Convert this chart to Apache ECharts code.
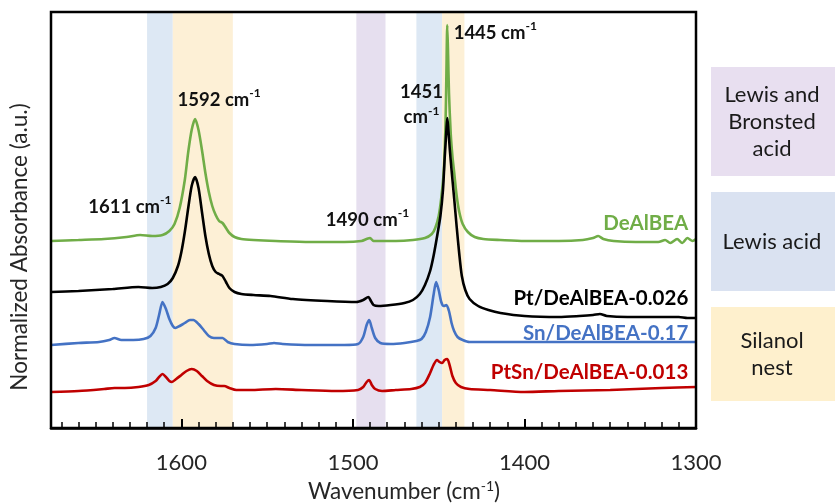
<!DOCTYPE html>
<html>
<head>
<meta charset="utf-8">
<script src="https://cdn.jsdelivr.net/npm/echarts@6/dist/echarts.min.js"></script>
<style>
html,body{margin:0;padding:0;background:#fff;}
#chart{width:835px;height:504px;}
</style>
</head>
<body>
<div id="chart"></div>
<script>
// Wavenumber axis (cm-1), drawn high to low
const wnMin = 1300;
const wnMax = 1676;
const wnTicks = [1300, 1400, 1500, 1600];

// Pyridine-adsorbed spectra, [wavenumber, normalized absorbance (offset)]
const deAlBEA = [[1676,1.87],[1660,1.88],[1645,1.89],[1632,1.91],[1624,1.93],[1617,1.92],[1611,1.93],[1607,1.97],[1604,2.04],[1601,2.20],[1598,2.48],[1596,2.76],[1594,2.98],[1592,3.09],[1590,2.98],[1588,2.78],[1586,2.55],[1584,2.36],[1582,2.22],[1580,2.13],[1578,2.07],[1576,2.05],[1574,2.00],[1572,1.95],[1569,1.91],[1565,1.89],[1558,1.88],[1545,1.87],[1525,1.86],[1505,1.86],[1495,1.87],[1492,1.89],[1490,1.90],[1488,1.87],[1485,1.87],[1475,1.87],[1465,1.88],[1458,1.90],[1454,1.94],[1452,2.00],[1450,2.12],[1448.5,2.30],[1447,2.58],[1446,3.05],[1445.5,3.55],[1445,4.03],[1444.5,3.72],[1444,3.35],[1443,2.95],[1442,2.72],[1441,2.56],[1439.5,2.32],[1438,2.16],[1436,2.04],[1433,1.96],[1429,1.91],[1424,1.89],[1414,1.88],[1400,1.87],[1380,1.87],[1366,1.88],[1360,1.90],[1357,1.92],[1354,1.89],[1348,1.87],[1335,1.86],[1322,1.86],[1318,1.88],[1315,1.85],[1311,1.89],[1308,1.85],[1305,1.90],[1302,1.87],[1300,1.89]];

const ptDeAlBEA = [[1676,1.36],[1660,1.37],[1640,1.39],[1625,1.41],[1617,1.40],[1612,1.41],[1608,1.44],[1605,1.50],[1602,1.62],[1600,1.76],[1598,1.96],[1596,2.20],[1594,2.42],[1592,2.51],[1590,2.40],[1588,2.16],[1586,1.92],[1584,1.74],[1582,1.62],[1580,1.56],[1578,1.54],[1576,1.52],[1574,1.46],[1572,1.40],[1569,1.36],[1565,1.34],[1558,1.33],[1548,1.32],[1535,1.29],[1515,1.27],[1498,1.26],[1494,1.28],[1491,1.31],[1489.5,1.27],[1488,1.23],[1485,1.22],[1478,1.23],[1470,1.25],[1465,1.28],[1461,1.34],[1458,1.43],[1455,1.57],[1453,1.72],[1451,1.91],[1449,2.12],[1447.5,2.38],[1446.5,2.70],[1445.5,2.98],[1445,3.10],[1444.5,3.02],[1443.5,2.78],[1442.5,2.58],[1441,2.30],[1439.5,2.01],[1438,1.74],[1436.5,1.52],[1434.5,1.38],[1432,1.29],[1427,1.22],[1421,1.18],[1414,1.15],[1400,1.12],[1380,1.11],[1368,1.12],[1360,1.13],[1356,1.14],[1352,1.12],[1340,1.11],[1320,1.11],[1310,1.11],[1305,1.10],[1300,1.10]];

const snDeAlBEA = [[1676,0.83],[1660,0.85],[1648,0.86],[1642,0.88],[1639,0.90],[1635,0.88],[1628,0.88],[1622,0.89],[1618,0.92],[1615,1.00],[1613,1.13],[1611,1.26],[1609,1.19],[1607,1.09],[1605,1.02],[1603.5,1.00],[1601,1.02],[1598,1.05],[1595,1.08],[1593,1.08],[1590,1.04],[1587,0.98],[1584,0.92],[1581,0.90],[1578,0.90],[1576,0.90],[1573,0.86],[1569,0.84],[1560,0.83],[1550,0.84],[1546,0.85],[1541,0.84],[1525,0.83],[1505,0.83],[1497,0.84],[1494,0.91],[1492,1.03],[1490.5,1.08],[1489,1.00],[1487,0.90],[1484,0.85],[1478,0.84],[1470,0.85],[1463,0.87],[1460,0.89],[1457.5,0.96],[1455,1.11],[1453,1.33],[1451.5,1.46],[1450,1.38],[1448.5,1.26],[1447,1.22],[1445.5,1.23],[1444,1.17],[1442.5,1.05],[1441,0.97],[1439,0.91],[1436,0.88],[1432,0.86],[1420,0.86],[1400,0.86],[1360,0.86],[1330,0.86],[1300,0.86]];

const ptSnDeAlBEA = [[1676,0.36],[1660,0.37],[1645,0.39],[1639,0.40],[1633,0.40],[1625,0.41],[1619,0.43],[1615,0.47],[1613,0.51],[1611,0.54],[1609,0.51],[1607,0.47],[1605.5,0.46],[1603,0.49],[1600,0.53],[1597,0.57],[1594,0.59],[1591,0.57],[1588,0.52],[1585,0.47],[1581,0.43],[1577,0.42],[1575,0.42],[1572,0.40],[1568,0.38],[1560,0.38],[1545,0.39],[1530,0.38],[1510,0.37],[1497,0.38],[1494,0.41],[1492,0.46],[1490.5,0.48],[1489,0.43],[1487,0.39],[1483,0.37],[1475,0.38],[1466,0.39],[1461,0.41],[1458,0.45],[1455,0.55],[1453,0.63],[1451,0.68],[1449.5,0.66],[1448,0.65],[1446.5,0.68],[1445,0.69],[1443.5,0.62],[1442,0.52],[1440,0.45],[1437,0.41],[1432,0.39],[1420,0.38],[1400,0.36],[1380,0.37],[1350,0.38],[1320,0.40],[1300,0.41]];

const seriesNames = ['DeAlBEA', 'Pt/DeAlBEA-0.026', 'Sn/DeAlBEA-0.17', 'PtSn/DeAlBEA-0.013'];
const seriesColors = ['#70ad47', '#000000', '#4472c4', '#c00000'];
const spectra = [deAlBEA, ptDeAlBEA, snDeAlBEA, ptSnDeAlBEA];
// where each sample name sits, [wavenumber, absorbance]
const nameAnchors = [[1304.5, 2.05], [1304.5, 1.30], [1304.5, 0.95], [1304.5, 0.56]];

// Assigned band regions (cm-1)
const lewisBands = [[1620, 1605], [1463, 1448]];
const silanolBands = [[1605, 1570], [1448, 1435]];
const lewisBronstedBands = [[1498, 1481]];

// Peak annotations: text and its centre in data space
const peakLabels = [
  ['1592 cm{s|-1}', [1578, 3.28]],
  ['1611 cm{s|-1}', [1630, 2.21]],
  ['1490 cm{s|-1}', [1491.5, 2.08]],
  ['1451\ncm{s|-1}', [1460, 3.23]],
  ['1445 cm{s|-1}', [1417, 3.95]]
];

// Key boxes on the right
const keyBoxes = [
  { text: 'Lewis and\nBronsted\nacid', color: '#e8dff0', top: 67, height: 109 },
  { text: 'Lewis acid', color: '#dae2f1', top: 192, height: 99 },
  { text: 'Silanol\nnest', color: '#fef0cd', top: 307, height: 94 }
];

const FONT = 'Lato, "Open Sans", sans-serif';
const BLUE_BAND = '#dde8f4';
const ORANGE_BAND = '#fdf0d6';
const PURPLE_BAND = '#e6dfef';

const chart = echarts.init(document.getElementById('chart'), null, { renderer: 'canvas' });

const bandData = []
  .concat(lewisBands.map(b => [{ xAxis: b[0], itemStyle: { color: BLUE_BAND } }, { xAxis: b[1] }]))
  .concat(silanolBands.map(b => [{ xAxis: b[0], itemStyle: { color: ORANGE_BAND } }, { xAxis: b[1] }]))
  .concat(lewisBronstedBands.map(b => [{ xAxis: b[0], itemStyle: { color: PURPLE_BAND } }, { xAxis: b[1] }]));

const supRich = {
  s: { fontSize: 12, fontWeight: 'bold', fontFamily: FONT, color: '#111', verticalAlign: 'top', lineHeight: 21 }
};

const series = [
  {
    name: 'bands',
    type: 'line',
    data: [],
    z: 1,
    silent: true,
    markArea: { silent: true, itemStyle: { opacity: 1 }, data: bandData }
  }
];

spectra.forEach((d, i) => {
  series.push({
    name: seriesNames[i],
    type: 'line',
    data: d,
    z: 3,
    showSymbol: false,
    smooth: 0.25,
    lineStyle: { width: 2.6, color: seriesColors[i] },
    itemStyle: { color: seriesColors[i] },
    markPoint: {
      symbol: 'circle',
      symbolSize: 0,
      silent: true,
      data: [{
        coord: nameAnchors[i],
        label: {
          show: true,
          position: 'left',
          distance: 0,
          formatter: seriesNames[i],
          fontFamily: FONT,
          fontWeight: 'bold',
          fontSize: 20.5,
          color: seriesColors[i]
        }
      }]
    }
  });
});

series.push({
  name: 'peaks',
  type: 'line',
  data: [],
  z: 5,
  silent: true,
  markPoint: {
    symbol: 'circle',
    symbolSize: 0,
    silent: true,
    data: peakLabels.map(p => ({
      coord: p[1],
      label: {
        show: true,
        position: 'inside',
        formatter: p[0],
        fontFamily: FONT,
        fontWeight: 'bold',
        fontSize: 18.5,
        lineHeight: 25,
        color: '#111',
        rich: supRich
      }
    }))
  }
});

const graphics = [];
keyBoxes.forEach(b => {
  graphics.push({
    type: 'rect',
    shape: { x: 711, y: b.top, width: 124, height: b.height },
    style: { fill: b.color },
    silent: true
  });
  graphics.push({
    type: 'text',
    x: 772,
    y: b.top + b.height / 2,
    style: {
      text: b.text,
      font: '22px ' + FONT,
      fill: '#1a1a1a',
      align: 'center',
      verticalAlign: 'middle',
      lineHeight: 27
    },
    silent: true
  });
});
graphics.push({
  type: 'text',
  x: 20,
  y: 247,
  rotation: Math.PI / 2,
  style: {
    text: 'Normalized Absorbance (a.u.)',
    font: '22.5px ' + FONT,
    fill: '#262626',
    align: 'center',
    verticalAlign: 'middle'
  },
  silent: true
});
graphics.push({
  type: 'text',
  x: 404,
  y: 492,
  style: {
    text: 'Wavenumber (cm{s|-1})',
    font: '22.5px ' + FONT,
    fill: '#262626',
    align: 'center',
    verticalAlign: 'middle',
    rich: { s: { fontSize: 14, fontFamily: FONT, fill: '#262626', verticalAlign: 'top', lineHeight: 26 } }
  },
  silent: true
});

const option = {
  animation: false,
  backgroundColor: '#ffffff',
  grid: {
    left: 51, right: 139, top: 12, bottom: 76,
    show: true, borderColor: '#000', borderWidth: 2.5, backgroundColor: 'transparent', z: 4
  },
  xAxis: [
    {
      type: 'value',
      inverse: true,
      min: wnMin,
      max: wnMax,
      interval: 100,
      position: 'bottom',
      axisLine: { show: true, lineStyle: { color: '#000', width: 2.5 } },
      axisTick: { show: true, inside: true, length: 9, lineStyle: { color: '#000', width: 2 } },
      axisLabel: {
        margin: 24,
        fontFamily: FONT,
        fontSize: 22,
        color: '#262626',
        formatter: v => (wnTicks.indexOf(v) >= 0 ? String(v) : '')
      },
      splitLine: { show: false },
      z: 6
    },
    {
      type: 'value',
      inverse: true,
      min: wnMin,
      max: wnMax,
      interval: 10,
      position: 'bottom',
      axisLine: { show: false },
      axisTick: { show: true, inside: true, length: 6, lineStyle: { color: '#000', width: 1.5 } },
      axisLabel: { show: false },
      splitLine: { show: false },
      z: 6
    }
  ],
  yAxis: {
    type: 'value',
    min: 0,
    max: 4.16,
    show: true,
    axisLine: { show: false },
    axisTick: { show: false },
    axisLabel: { show: false },
    splitLine: { show: false }
  },
  graphic: graphics,
  series: series
};

chart.setOption(option);
</script>
</body>
</html>
